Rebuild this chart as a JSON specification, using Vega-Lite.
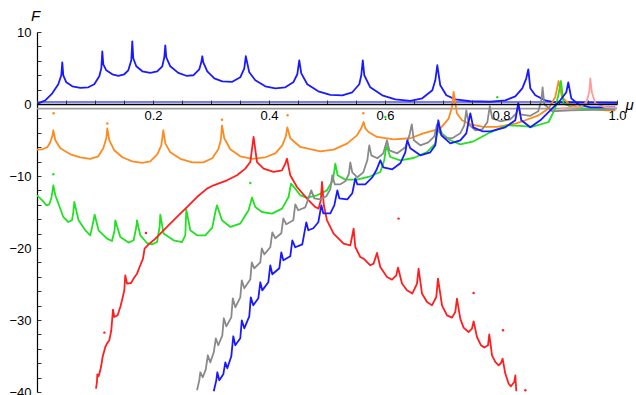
{
"$schema": "https://vega.github.io/schema/vega-lite/v6.json",
"width": 580, "height": 360,
"autosize": {"type": "none"},
"padding": {"left": 37, "top": 32, "right": 19, "bottom": 3},
"background": "white",
"config": {"view": {"stroke": null}, "font": "Liberation Sans"},
"datasets": {
"lines": [
{"series":"blueBase","mu":0,"F":0.28},{"series":"blueBase","mu":1,"F":0.28},
{"series":"grayBase","mu":0,"F":-0.64},{"series":"grayBase","mu":1,"F":-0.64},
{"series":"blueU","mu":0,"F":0},{"series":"blueU","mu":0.0143,"F":0.51},{"series":"blueU","mu":0.0264,"F":1.49},{"series":"blueU","mu":0.0367,"F":2.74},{"series":"blueU","mu":0.0419,"F":3.99},{"series":"blueU","mu":0.0436,"F":5.79},{"series":"blueU","mu":0.0453,"F":3.99},{"series":"blueU","mu":0.0505,"F":3.01},{"series":"blueU","mu":0.0609,"F":2.46},{"series":"blueU","mu":0.0747,"F":2.25},{"series":"blueU","mu":0.0884,"F":2.32},{"series":"blueU","mu":0.0988,"F":2.74},{"series":"blueU","mu":0.1074,"F":3.85},{"series":"blueU","mu":0.1109,"F":4.96},{"series":"blueU","mu":0.1126,"F":7.32},{"series":"blueU","mu":0.1143,"F":5.51},{"series":"blueU","mu":0.1195,"F":4.68},{"series":"blueU","mu":0.1298,"F":4.13},{"series":"blueU","mu":0.1402,"F":3.92},{"series":"blueU","mu":0.1505,"F":4.13},{"series":"blueU","mu":0.1574,"F":4.68},{"series":"blueU","mu":0.1626,"F":6.07},{"series":"blueU","mu":0.1643,"F":8.71},{"series":"blueU","mu":0.166,"F":6.35},{"series":"blueU","mu":0.1712,"F":5.24},{"series":"blueU","mu":0.1816,"F":4.54},{"series":"blueU","mu":0.1953,"F":4.33},{"series":"blueU","mu":0.2074,"F":4.54},{"series":"blueU","mu":0.216,"F":5.24},{"series":"blueU","mu":0.2195,"F":6.49},{"series":"blueU","mu":0.2212,"F":8.15},{"series":"blueU","mu":0.2229,"F":6.49},{"series":"blueU","mu":0.2298,"F":5.24},{"series":"blueU","mu":0.2436,"F":4.33},{"series":"blueU","mu":0.2574,"F":3.92},{"series":"blueU","mu":0.2695,"F":3.99},{"series":"blueU","mu":0.2798,"F":4.82},{"series":"blueU","mu":0.2833,"F":5.79},{"series":"blueU","mu":0.285,"F":6.63},{"series":"blueU","mu":0.2867,"F":5.79},{"series":"blueU","mu":0.2936,"F":4.54},{"series":"blueU","mu":0.3057,"F":3.57},{"series":"blueU","mu":0.3195,"F":3.15},{"series":"blueU","mu":0.3367,"F":3.08},{"series":"blueU","mu":0.3505,"F":3.71},{"series":"blueU","mu":0.3574,"F":4.96},{"series":"blueU","mu":0.36,"F":6.63},{"series":"blueU","mu":0.366,"F":4.4},{"series":"blueU","mu":0.3764,"F":3.29},{"series":"blueU","mu":0.3936,"F":2.46},{"series":"blueU","mu":0.4109,"F":2.18},{"series":"blueU","mu":0.4281,"F":2.32},{"series":"blueU","mu":0.4419,"F":3.01},{"series":"blueU","mu":0.4488,"F":4.13},{"series":"blueU","mu":0.4522,"F":6.07},{"series":"blueU","mu":0.4557,"F":4.26},{"series":"blueU","mu":0.466,"F":2.74},{"series":"blueU","mu":0.485,"F":1.76},{"series":"blueU","mu":0.5057,"F":1.28},{"series":"blueU","mu":0.5264,"F":1.21},{"series":"blueU","mu":0.5436,"F":1.63},{"series":"blueU","mu":0.5557,"F":2.74},{"series":"blueU","mu":0.5591,"F":3.99},{"series":"blueU","mu":0.5617,"F":6.07},{"series":"blueU","mu":0.5643,"F":3.99},{"series":"blueU","mu":0.5746,"F":2.32},{"series":"blueU","mu":0.5953,"F":1.21},{"series":"blueU","mu":0.6178,"F":0.65},{"series":"blueU","mu":0.6436,"F":0.44},{"series":"blueU","mu":0.6643,"F":0.79},{"series":"blueU","mu":0.6816,"F":1.9},{"series":"blueU","mu":0.6867,"F":3.29},{"series":"blueU","mu":0.6902,"F":5.38},{"series":"blueU","mu":0.6953,"F":2.6},{"series":"blueU","mu":0.7057,"F":1.21},{"series":"blueU","mu":0.7212,"F":0.65},{"series":"blueU","mu":0.7471,"F":0.38},{"series":"blueU","mu":0.7816,"F":0.31},{"series":"blueU","mu":0.8074,"F":0.51},{"series":"blueU","mu":0.8247,"F":1.07},{"series":"blueU","mu":0.8367,"F":2.18},{"series":"blueU","mu":0.8436,"F":3.57},{"series":"blueU","mu":0.8471,"F":4.82},{"series":"blueU","mu":0.8505,"F":2.18},{"series":"blueU","mu":0.8591,"F":1.21},{"series":"blueU","mu":0.8764,"F":0.51},{"series":"blueU","mu":0.8936,"F":0.24},{"series":"blueU","mu":1.0,"F":0.17},
{"series":"orange","mu":0,"F":-6.33},{"series":"orange","mu":0.0091,"F":-6.29},{"series":"orange","mu":0.0178,"F":-6.01},{"series":"orange","mu":0.0229,"F":-5.32},{"series":"orange","mu":0.0264,"F":-4.49},{"series":"orange","mu":0.0281,"F":-3.65},{"series":"orange","mu":0.0316,"F":-5.04},{"series":"orange","mu":0.0402,"F":-6.15},{"series":"orange","mu":0.0574,"F":-6.99},{"series":"orange","mu":0.0747,"F":-7.4},{"series":"orange","mu":0.0919,"F":-7.61},{"series":"orange","mu":0.1057,"F":-7.26},{"series":"orange","mu":0.1143,"F":-6.15},{"series":"orange","mu":0.1195,"F":-4.76},{"series":"orange","mu":0.1212,"F":-3.38},{"series":"orange","mu":0.1247,"F":-5.04},{"series":"orange","mu":0.1333,"F":-6.43},{"series":"orange","mu":0.1471,"F":-7.4},{"series":"orange","mu":0.1643,"F":-7.96},{"series":"orange","mu":0.1816,"F":-8.17},{"series":"orange","mu":0.1953,"F":-7.96},{"series":"orange","mu":0.2074,"F":-6.99},{"series":"orange","mu":0.2143,"F":-5.74},{"series":"orange","mu":0.2178,"F":-3.65},{"series":"orange","mu":0.2212,"F":-5.46},{"series":"orange","mu":0.2298,"F":-6.71},{"series":"orange","mu":0.2471,"F":-7.61},{"series":"orange","mu":0.2678,"F":-8.1},{"series":"orange","mu":0.2867,"F":-8.1},{"series":"orange","mu":0.3022,"F":-7.54},{"series":"orange","mu":0.3126,"F":-6.29},{"series":"orange","mu":0.3169,"F":-5.04},{"series":"orange","mu":0.319,"F":-2.96},{"series":"orange","mu":0.3229,"F":-4.76},{"series":"orange","mu":0.3333,"F":-6.29},{"series":"orange","mu":0.3505,"F":-7.26},{"series":"orange","mu":0.3712,"F":-7.61},{"series":"orange","mu":0.3936,"F":-7.4},{"series":"orange","mu":0.4109,"F":-6.85},{"series":"orange","mu":0.4229,"F":-5.74},{"series":"orange","mu":0.429,"F":-4.49},{"series":"orange","mu":0.4316,"F":-3.24},{"series":"orange","mu":0.4367,"F":-4.76},{"series":"orange","mu":0.454,"F":-5.97},{"series":"orange","mu":0.4884,"F":-6.57},{"series":"orange","mu":0.5114,"F":-6.33},{"series":"orange","mu":0.5345,"F":-5.5},{"series":"orange","mu":0.5517,"F":-4.35},{"series":"orange","mu":0.5591,"F":-3.38},{"series":"orange","mu":0.5631,"F":-2.5},{"series":"orange","mu":0.566,"F":-3.38},{"series":"orange","mu":0.5717,"F":-3.89},{"series":"orange","mu":0.5862,"F":-4.58},{"series":"orange","mu":0.6148,"F":-4.9},{"series":"orange","mu":0.6436,"F":-4.76},{"series":"orange","mu":0.666,"F":-4.07},{"series":"orange","mu":0.6953,"F":-3.42},{"series":"orange","mu":0.7097,"F":-2.03},{"series":"orange","mu":0.7155,"F":-0.42},{"series":"orange","mu":0.7183,"F":1.67},{"series":"orange","mu":0.7241,"F":-1.33},{"series":"orange","mu":0.7328,"F":-2.26},{"series":"orange","mu":0.7471,"F":-2.82},{"series":"orange","mu":0.77,"F":-3.19},{"series":"orange","mu":0.7931,"F":-3.19},{"series":"orange","mu":0.8247,"F":-2.72},{"series":"orange","mu":0.8419,"F":-2.26},{"series":"orange","mu":0.8648,"F":-1.57},{"series":"orange","mu":0.8821,"F":-0.64},{"series":"orange","mu":0.8936,"F":0.97},{"series":"orange","mu":0.8993,"F":3.19},{"series":"orange","mu":0.9052,"F":0.97},{"series":"orange","mu":0.9166,"F":0.06},{"series":"orange","mu":0.9397,"F":-0.64},{"series":"orange","mu":0.9798,"F":-0.88},{"series":"orange","mu":0.9971,"F":-0.88},
{"series":"green","mu":0,"F":-12.68},{"series":"green","mu":0.0091,"F":-13.38},{"series":"green","mu":0.016,"F":-14.07},{"series":"green","mu":0.0212,"F":-13.93},{"series":"green","mu":0.0247,"F":-13.1},{"series":"green","mu":0.0264,"F":-12.26},{"series":"green","mu":0.0281,"F":-11.29},{"series":"green","mu":0.0316,"F":-12.68},{"series":"green","mu":0.0367,"F":-13.79},{"series":"green","mu":0.0453,"F":-15.69},{"series":"green","mu":0.054,"F":-16.39},{"series":"green","mu":0.0603,"F":-16.15},{"series":"green","mu":0.0626,"F":-15.04},{"series":"green","mu":0.0643,"F":-13.61},{"series":"green","mu":0.0717,"F":-16.15},{"series":"green","mu":0.0833,"F":-17.54},{"series":"green","mu":0.0919,"F":-18.24},{"series":"green","mu":0.0976,"F":-16.15},{"series":"green","mu":0.0993,"F":-15.36},{"series":"green","mu":0.1062,"F":-17.54},{"series":"green","mu":0.1207,"F":-18.69},{"series":"green","mu":0.1293,"F":-19.03},{"series":"green","mu":0.1338,"F":-17.54},{"series":"green","mu":0.135,"F":-16.15},{"series":"green","mu":0.1436,"F":-18.47},{"series":"green","mu":0.1579,"F":-19.25},{"series":"green","mu":0.1666,"F":-18.93},{"series":"green","mu":0.1712,"F":-17.08},{"series":"green","mu":0.1724,"F":-16.15},{"series":"green","mu":0.1781,"F":-18.24},{"series":"green","mu":0.1897,"F":-19.31},{"series":"green","mu":0.1983,"F":-19.49},{"series":"green","mu":0.2069,"F":-19.17},{"series":"green","mu":0.2114,"F":-17.08},{"series":"green","mu":0.2126,"F":-15.36},{"series":"green","mu":0.2183,"F":-18.0},{"series":"green","mu":0.2355,"F":-18.93},{"series":"green","mu":0.25,"F":-19.17},{"series":"green","mu":0.2557,"F":-18.24},{"series":"green","mu":0.2574,"F":-14.67},{"series":"green","mu":0.2643,"F":-17.54},{"series":"green","mu":0.2759,"F":-18.24},{"series":"green","mu":0.2902,"F":-18.24},{"series":"green","mu":0.3022,"F":-17.17},{"series":"green","mu":0.3074,"F":-15.04},{"series":"green","mu":0.3103,"F":-14.07},{"series":"green","mu":0.319,"F":-16.15},{"series":"green","mu":0.3333,"F":-17.08},{"series":"green","mu":0.3505,"F":-16.61},{"series":"green","mu":0.3648,"F":-14.76},{"series":"green","mu":0.3707,"F":-13.0},{"series":"green","mu":0.3764,"F":-14.31},{"series":"green","mu":0.3879,"F":-15.0},{"series":"green","mu":0.4052,"F":-15.22},{"series":"green","mu":0.4224,"F":-14.53},{"series":"green","mu":0.4338,"F":-12.92},{"series":"green","mu":0.4379,"F":-11.06},{"series":"green","mu":0.4453,"F":-11.75},{"series":"green","mu":0.454,"F":-12.68},{"series":"green","mu":0.4655,"F":-13.0},{"series":"green","mu":0.4828,"F":-12.68},{"series":"green","mu":0.5,"F":-11.99},{"series":"green","mu":0.5103,"F":-10.6},{"series":"green","mu":0.5143,"F":-8.28},{"series":"green","mu":0.5183,"F":-9.9},{"series":"green","mu":0.5316,"F":-10.5},{"series":"green","mu":0.5517,"F":-10.5},{"series":"green","mu":0.5747,"F":-10.04},{"series":"green","mu":0.5919,"F":-9.44},{"series":"green","mu":0.5988,"F":-7.82},{"series":"green","mu":0.6022,"F":-5.74},{"series":"green","mu":0.6091,"F":-7.36},{"series":"green","mu":0.6264,"F":-7.82},{"series":"green","mu":0.6493,"F":-7.5},{"series":"green","mu":0.6724,"F":-6.67},{"series":"green","mu":0.6867,"F":-5.5},{"series":"green","mu":0.6924,"F":-2.96},{"series":"green","mu":0.6983,"F":-4.11},{"series":"green","mu":0.7126,"F":-5.04},{"series":"green","mu":0.7298,"F":-5.6},{"series":"green","mu":0.7528,"F":-5.18},{"series":"green","mu":0.7816,"F":-3.93},{"series":"green","mu":0.8103,"F":-2.96},{"series":"green","mu":0.8333,"F":-3.03},{"series":"green","mu":0.8534,"F":-3.19},{"series":"green","mu":0.8821,"F":-2.5},{"series":"green","mu":0.8936,"F":-0.6},{"series":"green","mu":0.8988,"F":1.21},{"series":"green","mu":0.9034,"F":3.19},{"series":"green","mu":0.9079,"F":0.06},{"series":"green","mu":0.9224,"F":-0.42},{"series":"green","mu":0.9453,"F":-0.64},{"series":"green","mu":0.9971,"F":-0.64},
{"series":"red","mu":0.1017,"F":-39.53},{"series":"red","mu":0.1034,"F":-38.61},{"series":"red","mu":0.104,"F":-37.54},{"series":"red","mu":0.1062,"F":-37.82},{"series":"red","mu":0.1091,"F":-36.99},{"series":"red","mu":0.1109,"F":-36.29},{"series":"red","mu":0.1131,"F":-35.14},{"series":"red","mu":0.1178,"F":-33.75},{"series":"red","mu":0.1207,"F":-33.28},{"series":"red","mu":0.1247,"F":-32.82},{"series":"red","mu":0.1281,"F":-31.43},{"series":"red","mu":0.131,"F":-28.56},{"series":"red","mu":0.1333,"F":-29.58},{"series":"red","mu":0.139,"F":-29.35},{"series":"red","mu":0.1436,"F":-28.19},{"series":"red","mu":0.1466,"F":-27.26},{"series":"red","mu":0.1505,"F":-25.88},{"series":"red","mu":0.1522,"F":-23.79},{"series":"red","mu":0.1552,"F":-24.94},{"series":"red","mu":0.1621,"F":-24.86},{"series":"red","mu":0.1666,"F":-24.25},{"series":"red","mu":0.1724,"F":-23.56},{"series":"red","mu":0.1781,"F":-22.4},{"series":"red","mu":0.1828,"F":-21.47},{"series":"red","mu":0.1855,"F":-20.08},{"series":"red","mu":0.1924,"F":-19.49},{"series":"red","mu":0.201,"F":-18.93},{"series":"red","mu":0.2097,"F":-18.24},{"series":"red","mu":0.2241,"F":-17.08},{"series":"red","mu":0.2414,"F":-15.69},{"series":"red","mu":0.2586,"F":-14.31},{"series":"red","mu":0.2759,"F":-12.92},{"series":"red","mu":0.2931,"F":-11.75},{"series":"red","mu":0.3045,"F":-11.29},{"series":"red","mu":0.3276,"F":-10.6},{"series":"red","mu":0.3448,"F":-9.9},{"series":"red","mu":0.3591,"F":-8.97},{"series":"red","mu":0.3678,"F":-8.06},{"series":"red","mu":0.3734,"F":-4.58},{"series":"red","mu":0.3793,"F":-8.06},{"series":"red","mu":0.3907,"F":-8.97},{"series":"red","mu":0.4079,"F":-9.44},{"series":"red","mu":0.4224,"F":-9.21},{"series":"red","mu":0.4281,"F":-8.28},{"series":"red","mu":0.431,"F":-7.58},{"series":"red","mu":0.4367,"F":-9.9},{"series":"red","mu":0.4483,"F":-11.53},{"series":"red","mu":0.4655,"F":-13.14},{"series":"red","mu":0.4798,"F":-14.31},{"series":"red","mu":0.4855,"F":-14.53},{"series":"red","mu":0.4893,"F":-13.38},{"series":"red","mu":0.4914,"F":-10.83},{"series":"red","mu":0.4945,"F":-14.07},{"series":"red","mu":0.5,"F":-16.15},{"series":"red","mu":0.5114,"F":-18.0},{"series":"red","mu":0.5286,"F":-19.39},{"series":"red","mu":0.5402,"F":-19.63},{"series":"red","mu":0.5431,"F":-18.47},{"series":"red","mu":0.5459,"F":-17.31},{"series":"red","mu":0.5488,"F":-19.86},{"series":"red","mu":0.5574,"F":-21.25},{"series":"red","mu":0.5631,"F":-21.47},{"series":"red","mu":0.5747,"F":-22.4},{"series":"red","mu":0.5803,"F":-22.17},{"series":"red","mu":0.5862,"F":-20.69},{"series":"red","mu":0.5919,"F":-22.64},{"series":"red","mu":0.6034,"F":-24.03},{"series":"red","mu":0.6121,"F":-24.39},{"series":"red","mu":0.6195,"F":-23.79},{"series":"red","mu":0.6224,"F":-22.72},{"series":"red","mu":0.6293,"F":-24.94},{"series":"red","mu":0.6379,"F":-25.88},{"series":"red","mu":0.6471,"F":-26.33},{"series":"red","mu":0.6552,"F":-24.94},{"series":"red","mu":0.6579,"F":-22.86},{"series":"red","mu":0.6638,"F":-26.33},{"series":"red","mu":0.6724,"F":-27.5},{"series":"red","mu":0.681,"F":-27.96},{"series":"red","mu":0.6884,"F":-26.81},{"series":"red","mu":0.6914,"F":-24.25},{"series":"red","mu":0.6983,"F":-27.96},{"series":"red","mu":0.7069,"F":-29.35},{"series":"red","mu":0.7155,"F":-29.67},{"series":"red","mu":0.7212,"F":-28.89},{"series":"red","mu":0.7241,"F":-27.03},{"series":"red","mu":0.7298,"F":-29.81},{"series":"red","mu":0.7355,"F":-31.06},{"series":"red","mu":0.7441,"F":-31.67},{"series":"red","mu":0.75,"F":-31.19},{"series":"red","mu":0.7528,"F":-30.18},{"series":"red","mu":0.7586,"F":-32.36},{"series":"red","mu":0.7655,"F":-33.51},{"series":"red","mu":0.7712,"F":-33.83},{"series":"red","mu":0.7776,"F":-33.51},{"series":"red","mu":0.7798,"F":-31.99},{"series":"red","mu":0.7845,"F":-34.9},{"series":"red","mu":0.7902,"F":-35.83},{"series":"red","mu":0.7959,"F":-36.29},{"series":"red","mu":0.8,"F":-35.97},{"series":"red","mu":0.8028,"F":-35.36},{"series":"red","mu":0.8074,"F":-37.44},{"series":"red","mu":0.8131,"F":-38.83},{"series":"red","mu":0.8172,"F":-39.21},{"series":"red","mu":0.8229,"F":-38.61},{"series":"red","mu":0.8247,"F":-37.68},{"series":"red","mu":0.8264,"F":-39.9},
{"series":"gray","mu":0.2759,"F":-39.76},{"series":"gray","mu":0.2798,"F":-38.38},{"series":"gray","mu":0.2816,"F":-37.26},{"series":"gray","mu":0.2859,"F":-37.96},{"series":"gray","mu":0.291,"F":-36.85},{"series":"gray","mu":0.2945,"F":-34.9},{"series":"gray","mu":0.2988,"F":-35.88},{"series":"gray","mu":0.3048,"F":-34.49},{"series":"gray","mu":0.3083,"F":-32.54},{"series":"gray","mu":0.3126,"F":-33.51},{"series":"gray","mu":0.3195,"F":-32.13},{"series":"gray","mu":0.3221,"F":-29.76},{"series":"gray","mu":0.3264,"F":-30.88},{"series":"gray","mu":0.335,"F":-29.63},{"series":"gray","mu":0.3376,"F":-26.99},{"series":"gray","mu":0.3419,"F":-28.24},{"series":"gray","mu":0.3505,"F":-26.85},{"series":"gray","mu":0.3531,"F":-24.49},{"series":"gray","mu":0.3574,"F":-25.6},{"series":"gray","mu":0.3678,"F":-24.35},{"series":"gray","mu":0.3703,"F":-21.99},{"series":"gray","mu":0.3747,"F":-22.82},{"series":"gray","mu":0.385,"F":-21.99},{"series":"gray","mu":0.3876,"F":-20.04},{"series":"gray","mu":0.3919,"F":-20.88},{"series":"gray","mu":0.4022,"F":-19.9},{"series":"gray","mu":0.4057,"F":-17.82},{"series":"gray","mu":0.4109,"F":-18.65},{"series":"gray","mu":0.4212,"F":-17.96},{"series":"gray","mu":0.4247,"F":-15.88},{"series":"gray","mu":0.4298,"F":-16.71},{"series":"gray","mu":0.4419,"F":-16.15},{"series":"gray","mu":0.4453,"F":-13.93},{"series":"gray","mu":0.4505,"F":-14.76},{"series":"gray","mu":0.4626,"F":-14.35},{"series":"gray","mu":0.4729,"F":-11.99},{"series":"gray","mu":0.4781,"F":-13.1},{"series":"gray","mu":0.4884,"F":-13.24},{"series":"gray","mu":0.4988,"F":-12.82},{"series":"gray","mu":0.5057,"F":-11.85},{"series":"gray","mu":0.5091,"F":-9.9},{"series":"gray","mu":0.5134,"F":-11.15},{"series":"gray","mu":0.5229,"F":-11.15},{"series":"gray","mu":0.5316,"F":-10.74},{"series":"gray","mu":0.5376,"F":-9.76},{"series":"gray","mu":0.5402,"F":-8.1},{"series":"gray","mu":0.5436,"F":-9.49},{"series":"gray","mu":0.5522,"F":-10.18},{"series":"gray","mu":0.5626,"F":-9.49},{"series":"gray","mu":0.5695,"F":-7.82},{"series":"gray","mu":0.5729,"F":-5.74},{"series":"gray","mu":0.5764,"F":-7.13},{"series":"gray","mu":0.5867,"F":-7.54},{"series":"gray","mu":0.5971,"F":-6.85},{"series":"gray","mu":0.6034,"F":-5.04},{"series":"gray","mu":0.6074,"F":-6.43},{"series":"gray","mu":0.6212,"F":-6.85},{"series":"gray","mu":0.635,"F":-6.01},{"series":"gray","mu":0.6421,"F":-4.35},{"series":"gray","mu":0.6462,"F":-2.82},{"series":"gray","mu":0.6497,"F":-5.04},{"series":"gray","mu":0.6609,"F":-5.74},{"series":"gray","mu":0.6747,"F":-5.32},{"series":"gray","mu":0.685,"F":-4.49},{"series":"gray","mu":0.6897,"F":-2.82},{"series":"gray","mu":0.6936,"F":-3.93},{"series":"gray","mu":0.7057,"F":-4.76},{"series":"gray","mu":0.716,"F":-4.76},{"series":"gray","mu":0.7298,"F":-4.07},{"series":"gray","mu":0.7367,"F":-2.96},{"series":"gray","mu":0.7402,"F":-0.88},{"series":"gray","mu":0.7445,"F":-2.82},{"series":"gray","mu":0.7557,"F":-3.65},{"series":"gray","mu":0.7678,"F":-3.51},{"series":"gray","mu":0.7764,"F":-2.54},{"series":"gray","mu":0.7807,"F":-0.32},{"series":"gray","mu":0.785,"F":-1.99},{"series":"gray","mu":0.7988,"F":-2.4},{"series":"gray","mu":0.816,"F":-2.13},{"series":"gray","mu":0.8264,"F":-1.29},{"series":"gray","mu":0.8298,"F":-0.04},{"series":"gray","mu":0.8333,"F":-1.43},{"series":"gray","mu":0.8505,"F":-1.64},{"series":"gray","mu":0.8643,"F":-1.01},{"series":"gray","mu":0.8695,"F":0.51},{"series":"gray","mu":0.8717,"F":2.32},{"series":"gray","mu":0.8747,"F":-0.04},{"series":"gray","mu":0.8884,"F":-1.01},{"series":"gray","mu":0.9195,"F":-0.88},{"series":"gray","mu":0.9971,"F":-0.74},
{"series":"blueL","mu":0.3048,"F":-39.9},{"series":"blueL","mu":0.3091,"F":-38.38},{"series":"blueL","mu":0.3109,"F":-37.26},{"series":"blueL","mu":0.3143,"F":-38.38},{"series":"blueL","mu":0.3212,"F":-37.54},{"series":"blueL","mu":0.3247,"F":-35.88},{"series":"blueL","mu":0.3281,"F":-36.71},{"series":"blueL","mu":0.335,"F":-35.04},{"series":"blueL","mu":0.3384,"F":-32.26},{"series":"blueL","mu":0.3419,"F":-33.51},{"series":"blueL","mu":0.3505,"F":-32.54},{"series":"blueL","mu":0.3531,"F":-30.04},{"series":"blueL","mu":0.3574,"F":-31.15},{"series":"blueL","mu":0.366,"F":-29.49},{"series":"blueL","mu":0.3686,"F":-26.85},{"series":"blueL","mu":0.3729,"F":-27.96},{"series":"blueL","mu":0.3816,"F":-26.99},{"series":"blueL","mu":0.385,"F":-24.76},{"series":"blueL","mu":0.3884,"F":-25.88},{"series":"blueL","mu":0.3988,"F":-24.76},{"series":"blueL","mu":0.4022,"F":-22.4},{"series":"blueL","mu":0.4057,"F":-23.65},{"series":"blueL","mu":0.4178,"F":-22.82},{"series":"blueL","mu":0.4212,"F":-20.6},{"series":"blueL","mu":0.4247,"F":-21.71},{"series":"blueL","mu":0.4367,"F":-21.15},{"series":"blueL","mu":0.4402,"F":-18.93},{"series":"blueL","mu":0.4453,"F":-19.9},{"series":"blueL","mu":0.4574,"F":-19.49},{"series":"blueL","mu":0.4643,"F":-16.43},{"series":"blueL","mu":0.4678,"F":-17.54},{"series":"blueL","mu":0.4764,"F":-17.26},{"series":"blueL","mu":0.485,"F":-16.43},{"series":"blueL","mu":0.4902,"F":-14.07},{"series":"blueL","mu":0.4936,"F":-15.18},{"series":"blueL","mu":0.5057,"F":-15.18},{"series":"blueL","mu":0.5126,"F":-14.07},{"series":"blueL","mu":0.5178,"F":-11.99},{"series":"blueL","mu":0.5212,"F":-13.1},{"series":"blueL","mu":0.535,"F":-13.24},{"series":"blueL","mu":0.5436,"F":-12.4},{"series":"blueL","mu":0.5488,"F":-10.32},{"series":"blueL","mu":0.5522,"F":-11.15},{"series":"blueL","mu":0.566,"F":-11.15},{"series":"blueL","mu":0.5781,"F":-10.18},{"series":"blueL","mu":0.585,"F":-9.21},{"series":"blueL","mu":0.5919,"F":-7.82},{"series":"blueL","mu":0.5971,"F":-8.79},{"series":"blueL","mu":0.6126,"F":-9.07},{"series":"blueL","mu":0.6264,"F":-8.24},{"series":"blueL","mu":0.635,"F":-6.71},{"series":"blueL","mu":0.6384,"F":-5.04},{"series":"blueL","mu":0.6436,"F":-6.15},{"series":"blueL","mu":0.6609,"F":-7.13},{"series":"blueL","mu":0.6781,"F":-6.71},{"series":"blueL","mu":0.6867,"F":-5.74},{"series":"blueL","mu":0.6919,"F":-2.26},{"series":"blueL","mu":0.6971,"F":-4.35},{"series":"blueL","mu":0.7126,"F":-5.46},{"series":"blueL","mu":0.7298,"F":-5.04},{"series":"blueL","mu":0.7402,"F":-4.07},{"series":"blueL","mu":0.7471,"F":-1.29},{"series":"blueL","mu":0.7522,"F":-3.24},{"series":"blueL","mu":0.7678,"F":-3.79},{"series":"blueL","mu":0.7816,"F":-3.79},{"series":"blueL","mu":0.8074,"F":-3.24},{"series":"blueL","mu":0.8247,"F":-2.26},{"series":"blueL","mu":0.8298,"F":0.1},{"series":"blueL","mu":0.835,"F":-2.26},{"series":"blueL","mu":0.8505,"F":-3.24},{"series":"blueL","mu":0.8678,"F":-2.26},{"series":"blueL","mu":0.8816,"F":-1.15},{"series":"blueL","mu":0.9022,"F":0.51},{"series":"blueL","mu":0.9126,"F":1.63},{"series":"blueL","mu":0.916,"F":3.01},{"series":"blueL","mu":0.9212,"F":0.79},{"series":"blueL","mu":0.9333,"F":-0.04},{"series":"blueL","mu":0.954,"F":-0.46},{"series":"blueL","mu":0.9971,"F":-0.46},
{"series":"pink","mu":0.9022,"F":-0.61},{"series":"pink","mu":0.9367,"F":-0.39},{"series":"pink","mu":0.9471,"F":0.24},{"series":"pink","mu":0.9522,"F":1.63},{"series":"pink","mu":0.954,"F":3.57},{"series":"pink","mu":0.9566,"F":1.63},{"series":"pink","mu":0.9626,"F":0.1},{"series":"pink","mu":0.9798,"F":-0.46},{"series":"pink","mu":1.0,"F":-0.53}
],
"dots": [
{"series":"orange","mu":0.0286,"F":-1.29},{"series":"orange","mu":0.4321,"F":-1.57},{"series":"orange","mu":0.5626,"F":-1.29},{"series":"orange","mu":0.319,"F":-2.2},{"series":"orange","mu":0.1212,"F":-2.7},
{"series":"green","mu":0.0281,"F":-9.76},{"series":"green","mu":0.3678,"F":-10.97},{"series":"green","mu":0.6005,"F":-1.81},{"series":"green","mu":0.7936,"F":0.93},
{"series":"red","mu":0.1162,"F":-31.75},{"series":"red","mu":0.1879,"F":-17.92},{"series":"red","mu":0.7528,"F":-26.25},{"series":"red","mu":0.8035,"F":-31.43},{"series":"red","mu":0.8419,"F":-39.76},{"series":"red","mu":0.6234,"F":-15.92}
]
},
"encoding": {
"x": {"field": "mu", "type": "quantitative", "scale": {"domain": [0, 1], "nice": false, "zero": false},
"axis": {"values": [0,0.05,0.1,0.15,0.2,0.25,0.3,0.35,0.4,0.45,0.5,0.55,0.6,0.65,0.7,0.75,0.8,0.85,0.9,0.95,1.0],
"offset": -288, "zindex": 1, "domainColor": "#000000", "domainWidth": 1.5, "tickColor": "#333333", "tickSize": -4, "tickWidth": 1,
"labelExpr": "datum.value > 0.01 && abs(datum.value*5 - round(datum.value*5)) < 0.001 ? format(datum.value, '.1f') : ''",
"labelPadding": 9, "labelFontSize": 13, "labelColor": "#000000", "labelFont": "Liberation Sans", "labelFlush": false, "labelOverlap": false, "labelBound": false, "grid": false,
"title": "μ", "titleX": 592, "titleY": 0, "titleAlign": "center", "titleBaseline": "middle", "titleFontStyle": "italic", "titleFontWeight": "normal", "titleFontSize": 15, "titleFont": "Liberation Sans", "titleColor": "#000000"}},
"y": {"field": "F", "type": "quantitative", "scale": {"domain": [-40, 10], "nice": false, "zero": false},
"axis": {"values": [-40,-38,-36,-34,-32,-30,-28,-26,-24,-22,-20,-18,-16,-14,-12,-10,-8,-6,-4,-2,0,2,4,6,8,10],
"domainColor": "#000000", "domainWidth": 1.2, "tickColor": "#333333", "tickSize": -4, "tickWidth": 1,
"labelExpr": "abs(datum.value/10 - round(datum.value/10)) < 0.001 ? format(datum.value, 'd') : ''",
"labelPadding": 10, "labelFontSize": 13, "labelColor": "#000000", "labelFont": "Liberation Sans", "labelFlush": false, "labelOverlap": false, "labelBound": false, "grid": false,
"title": "F", "titleAngle": 0, "titleX": -2, "titleY": -17, "titleAlign": "center", "titleBaseline": "middle", "titleFontStyle": "italic", "titleFontWeight": "normal", "titleFontSize": 15, "titleFont": "Liberation Sans", "titleColor": "#000000"}},
"color": {"field": "series", "type": "nominal", "legend": null,
"scale": {"domain": ["blueBase","grayBase","blueU","orange","green","red","gray","blueL","pink"],
"range": ["#7b7bf2","#9a9a9a","#1a1aff","#ff8a1e","#22e022","#ff1f1f","#8a8a8a","#1a1aff","#ff9c9c"]}}
},
"layer": [
{"data": {"name": "lines"}, "mark": {"type": "line", "strokeWidth": 1.8, "strokeJoin": "round", "clip": true}},
{"data": {"name": "dots"}, "mark": {"type": "circle", "size": 6, "opacity": 1, "clip": true}}
]
}
